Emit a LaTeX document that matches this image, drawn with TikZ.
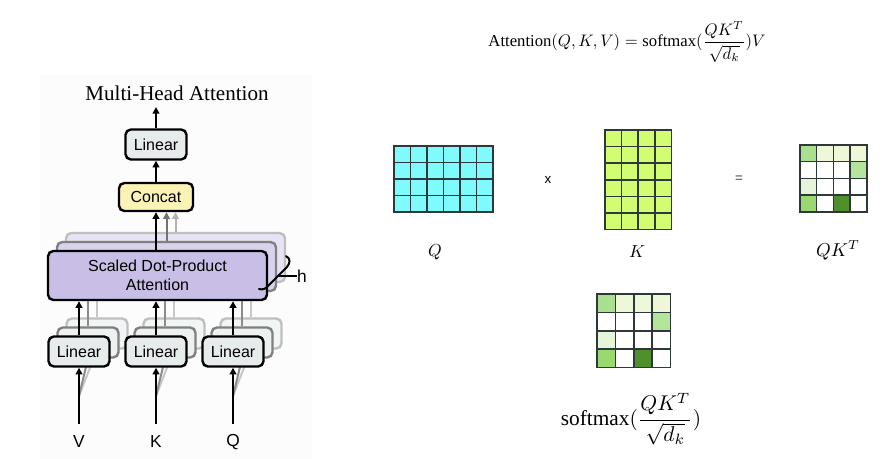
\documentclass[tikz,border=0pt]{standalone}
\usepackage{graphicx}
\usepackage{fontspec}
\setmainfont{Liberation Serif}
\setsansfont{Liberation Sans}
\usetikzlibrary{arrows.meta,calc}
\definecolor{panelbg}{HTML}{FCFCFC}
\definecolor{linfill}{HTML}{E6ECEB}
\definecolor{concatfill}{HTML}{FBF3B5}
\definecolor{attnfill}{HTML}{C9BFE6}
\definecolor{cyanM}{HTML}{80FBFD}
\definecolor{limeM}{HTML}{D2FC72}
\definecolor{matcol}{HTML}{2E3838}
\definecolor{gA}{HTML}{A9DF8E}
\definecolor{gB}{HTML}{EEF8D8}
\definecolor{gC}{HTML}{B3E59B}
\definecolor{gE}{HTML}{E6F4DA}
\definecolor{gF}{HTML}{9AD96F}
\definecolor{gD}{HTML}{4F8F2C}
\newcommand{\gridmat}[5]{%
  \foreach \i in {0,...,#3} \draw[matline] ({#1+\i*#5},#2) -- ++(0,{#4*#5});
  \foreach \j in {0,...,#4} \draw[matline] (#1,{#2+\j*#5}) -- ++({#3*#5},0);}
\newcommand{\greenmat}[3]{%
  \foreach \c/\r/\col in {0/0/gA,1/0/gB,2/0/gB,3/0/gB,3/1/gC,0/2/gE,0/3/gF,2/3/gD}
    \fill[\col] ({#1+\c*#3},{#2+\r*#3}) rectangle ++(#3,#3);
  \gridmat{#1}{#2}{4}{4}{#3}}
\begin{document}
\begin{tikzpicture}[x=0.75pt,y=-0.75pt,
  box/.style={draw=black, line width=1.8pt, rounded corners=4pt, inner sep=0pt, align=center,
    font=\sffamily\fontsize{12}{14.5}\selectfont},
  linbox/.style={box, fill=linfill, minimum width=45.75pt, minimum height=22.5pt},
  linsh1/.style={linbox, draw=black!50, fill=linfill!70},
  linsh2/.style={linbox, draw=black!25, fill=linfill!50},
  attnbox/.style={box, fill=attnfill, minimum width=164.25pt, minimum height=36.75pt},
  attnsh1/.style={attnbox, draw=black!50, fill=attnfill!70},
  attnsh2/.style={attnbox, draw=black!25, fill=attnfill!45},
  arr/.style={line width=1.5pt, -{Triangle[length=5pt,width=5pt]}},
  arrg1/.style={arr, draw=black!55},
  arrg2/.style={arr, draw=black!30},
  shline1/.style={line width=1.5pt, draw=black!45},
  shline2/.style={line width=1.5pt, draw=black!22},
  matline/.style={line width=1.1pt, draw=matcol, line cap=rect},
  lbl/.style={font=\sffamily\fontsize{13}{15}\selectfont, inner sep=0pt},
  mlbl/.style={inner sep=0pt}
]
\useasboundingbox (0,0) rectangle (887,459);
\fill[white] (0,0) rectangle (887,459);
\fill[panelbg] (40,75) rectangle (312,459);

% ---------- left: multi-head attention ----------
\node[font=\fontsize{15.8}{18}\selectfont, inner sep=0pt] (title) at (177,93) {Multi-Head Attention};

\node[lbl] (V) at (79,442) {V};
\node[lbl] (K) at (156,442) {K};
\node[lbl] (Q) at (233,442) {Q};
\coordinate (vin) at (79,424);
\coordinate (kin) at (156,424);
\coordinate (qin) at (233,424);
\coordinate (vsh) at (79,396);
\coordinate (ksh) at (156,396);
\coordinate (qsh) at (233,396);

% shadow layer 2
\node[attnsh2] (attnS2) at (175.5,257.5) {};
\node[linsh2] (l1S2) at (97,333.5) {};
\node[linsh2] (l2S2) at (174,333.5) {};
\node[linsh2] (l3S2) at (251,333.5) {};
\foreach \n in {l1S2,l2S2,l3S2} \draw[shline2] (\n.north) -- (\n.north |- attnS2.south);
\draw[shline2] (vsh) -- (l1S2.south);
\draw[shline2] (ksh) -- (l2S2.south);
\draw[shline2] (qsh) -- (l3S2.south);
% shadow layer 1
\node[attnsh1] (attnS1) at (166.5,266.5) {};
\node[linsh1] (l1S1) at (88,342.5) {};
\node[linsh1] (l2S1) at (165,342.5) {};
\node[linsh1] (l3S1) at (242,342.5) {};
\foreach \n in {l1S1,l2S1,l3S1} \draw[shline1] (\n.north) -- (\n.north |- attnS1.south);
\draw[shline1] (vsh) -- (l1S1.south);
\draw[shline1] (ksh) -- (l2S1.south);
\draw[shline1] (qsh) -- (l3S1.south);

% main layer
\node[attnbox] (attn) at (157.5,275.5) {Scaled Dot-Product\\Attention};
\node[linbox] (lin1) at (79,351.5) {Linear};
\node[linbox] (lin2) at (156,351.5) {Linear};
\node[linbox] (lin3) at (233,351.5) {Linear};
\node[box, fill=concatfill, minimum width=55.5pt, minimum height=21pt] (concat) at (156,197) {Concat};
\node[linbox] (linT) at (156,144.5) {Linear};
\coordinate (out) at (156,107);

\draw[arr] (vin) -- (lin1);
\draw[arr] (kin) -- (lin2);
\draw[arr] (qin) -- (lin3);
\foreach \n in {lin1,lin2,lin3} \draw[arr] (\n) -- (\n |- attn.south);
\draw[arrg2] (attnS2.north) -- (attnS2.north |- concat.south);
\draw[arrg1] (attnS1.north) -- (attnS1.north |- concat.south);
\draw[arr] (attn.north -| concat) -- (concat);
\draw[arr] (concat) -- (linT);
\draw[arr] (linT) -- (out);

% brace and h
\node[lbl] (h) at (302,276) {h};
\coordinate (bt) at (286,256);
\coordinate (bb) at (259,289);
\draw[line width=1.5pt, line cap=round] (bt) .. controls (291,259) and (290,263) .. (287,267)
   -- (268,286) .. controls (266,289) and (262,290) .. (bb);
\draw[line width=1.2pt] (279,276) -- (h.west);

% ---------- right: scaled dot-product illustration ----------
\node[inner sep=0pt] (eq) at (627,42)
  {\scalebox{1.25}{$\displaystyle\mathrm{Attention}(Q,K,V)=\mathrm{softmax}(\frac{QK^T}{\sqrt{d_k}})V$}};

\fill[cyanM] (394,146) rectangle ++(99,66);
\gridmat{394}{146}{6}{4}{16.5}
\fill[limeM] (605,130) rectangle ++(66.4,99.6);
\gridmat{605}{130}{4}{6}{16.6}
\greenmat{800}{145}{16.7}
\greenmat{597}{294}{18.4}

\node[font=\sffamily\fontsize{10}{12}\selectfont, inner sep=0pt] (times) at (548,180) {x};
\node[font=\sffamily\fontsize{10}{12}\selectfont, inner sep=0pt, text=black!75] (eqs) at (739,179) {=};

\node[mlbl] (Qlbl) at (435,252) {\scalebox{1.3}{$Q$}};
\node[mlbl] (Klbl) at (637,252) {\scalebox{1.3}{$K$}};
\node[mlbl] (QKlbl) at (838,250) {\scalebox{1.4}{$QK^T$}};
\node[mlbl] (smlbl) at (631,419)
  {\scalebox{1.6}{$\displaystyle\mathrm{softmax}(\frac{QK^T}{\sqrt{d_k}})$}};
\end{tikzpicture}
\end{document}
